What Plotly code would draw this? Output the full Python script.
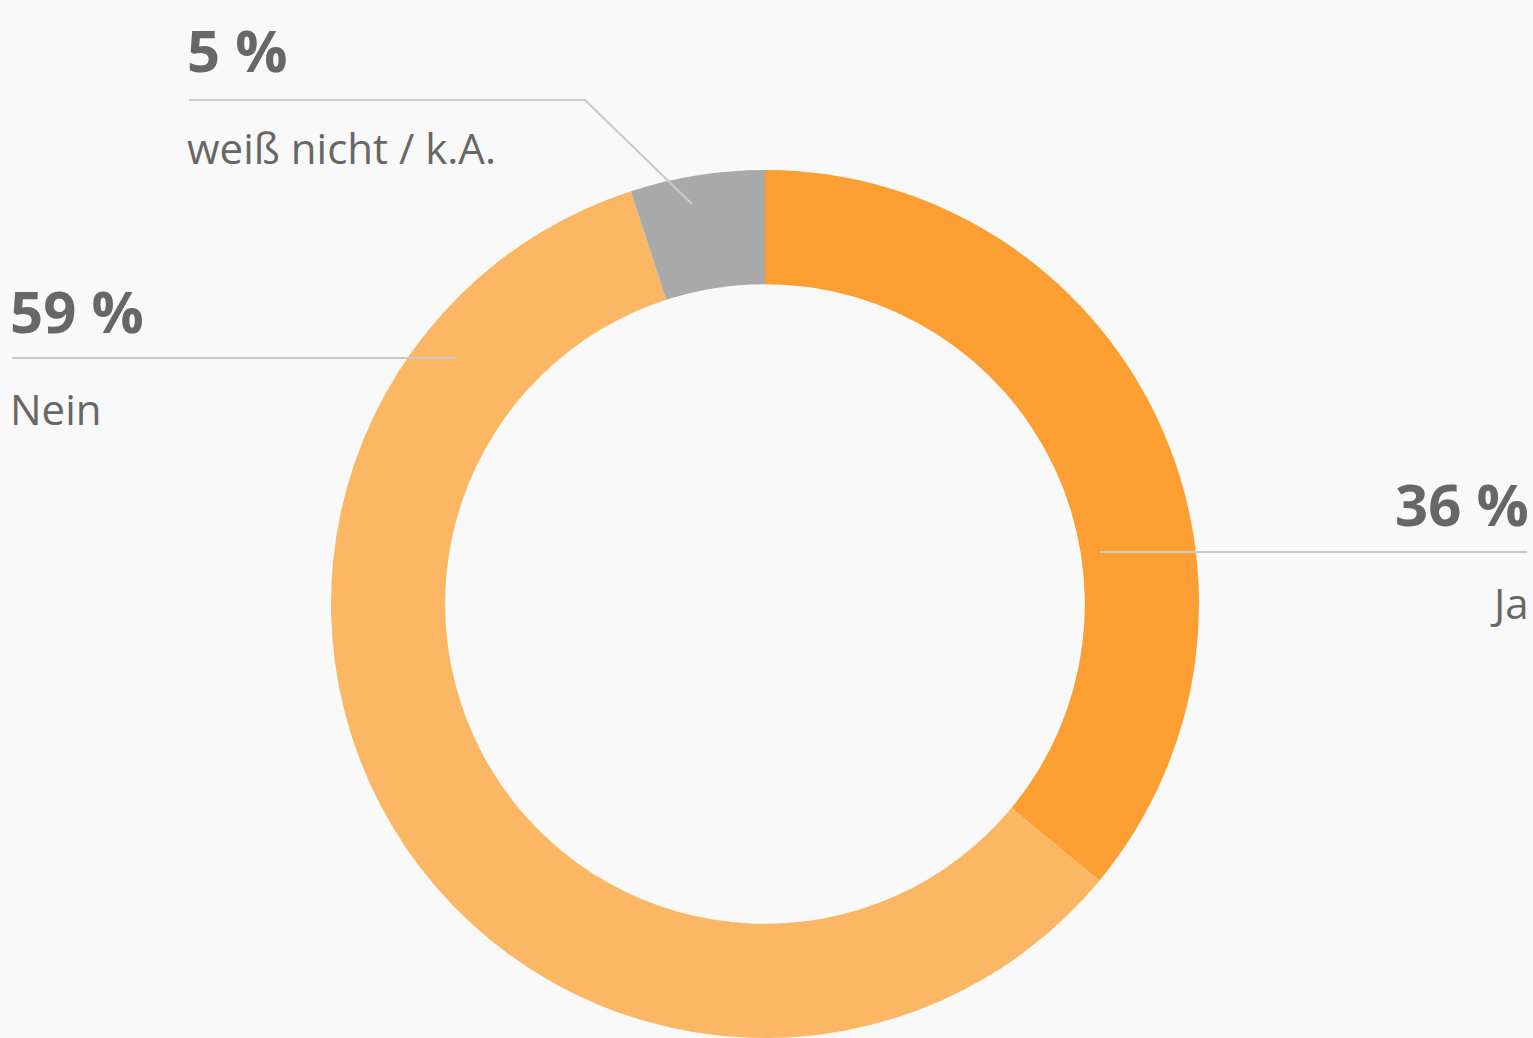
import plotly.graph_objects as go

# Survey answers and their shares (percent)
labels = ["Ja", "Nein", "weiß nicht / k.A."]
values = [36, 59, 5]
colors = ["#FD9F33", "#FCB765", "#A9A9A9"]

W, H = 1533, 1038
BG = "#F9F9F9"
TEXT = "#676767"
RULE = "#C9C9C9"
FONT = "Open Sans"


def px(x, y):
    """Pixel position -> paper coordinates."""
    return x / W, 1 - y / H


fig = go.Figure(
    go.Pie(
        labels=labels,
        values=values,
        marker=dict(colors=colors, line=dict(width=0)),
        hole=0.737,
        sort=False,
        direction="clockwise",
        rotation=0,
        textinfo="none",
        hoverinfo="label+percent",
        showlegend=False,
        domain=dict(x=[331 / W, 1199 / W], y=[0, 868 / H]),
    )
)

# Label blocks: (value, label, text x, value-centre y, label-centre y, anchor, rule path)
blocks = [
    (values[2], labels[2], 185, 50, 147, "left",
     [(189, 100), (585, 100), (692, 204)]),
    (values[1], labels[1], 8, 311, 408, "left",
     [(12, 358), (456, 358)]),
    (values[0], labels[0], 1531, 503, 602, "right",
     [(1100, 552), (1527, 552)]),
]

for val, lab, x, yv, yl, anchor, path in blocks:
    ax, ayv = px(x, yv)
    _, ayl = px(x, yl)
    fig.add_annotation(
        x=ax, y=ayv, xref="paper", yref="paper",
        text=f"<b>{val} %</b>", showarrow=False,
        xanchor=anchor, yanchor="middle",
        font=dict(family=FONT, size=58, color=TEXT),
    )
    fig.add_annotation(
        x=ax, y=ayl, xref="paper", yref="paper",
        text=lab, showarrow=False,
        xanchor=anchor, yanchor="middle",
        font=dict(family=FONT, size=42, color=TEXT),
    )
    d = "M " + " L ".join(f"{px(a, b)[0]} {px(a, b)[1]}" for a, b in path)
    fig.add_shape(
        type="path", path=d, xref="paper", yref="paper",
        line=dict(color=RULE, width=2),
    )

fig.update_layout(
    width=W, height=H,
    margin=dict(l=0, r=0, t=0, b=0),
    paper_bgcolor=BG, plot_bgcolor=BG,
    font=dict(family=FONT, color=TEXT),
)

fig.write_html("out.html")
